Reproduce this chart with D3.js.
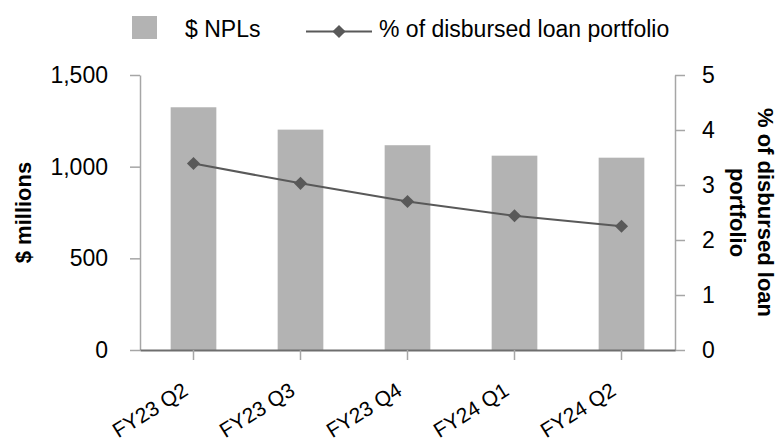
<!DOCTYPE html>
<html>
<head>
<meta charset="utf-8">
<script src="https://cdn.jsdelivr.net/npm/d3@7"></script>
<style>
  body { margin: 0; background: #fff; }
  svg text { font-family: "Liberation Sans", Arial, sans-serif; fill: #000; }
</style>
</head>
<body>
<svg width="778" height="441"></svg>
<script>
// chart values
var quarters = ["FY23 Q2", "FY23 Q3", "FY23 Q4", "FY24 Q1", "FY24 Q2"];
var nplValues = [1324, 1202, 1117, 1060, 1049];      // $ millions
var pctValues = [3.39, 3.03, 2.70, 2.44, 2.25];      // % of disbursed loan portfolio
var leftTicks = [0, 500, 1000, 1500];
var rightTicks = [0, 1, 2, 3, 4, 5];

var svg = d3.select("svg"),
    plotLeft = 140, plotRight = 675, plotTop = 75, plotBottom = 350,
    fs = 23;

var x = d3.scaleBand().domain(quarters).range([plotLeft, plotRight])
    .paddingInner(0.573).paddingOuter(0.2865);
var yL = d3.scaleLinear().domain([0, 1500]).range([plotBottom, plotTop]);
var yR = d3.scaleLinear().domain([0, 5]).range([plotBottom, plotTop]);

// bars
svg.append("g").selectAll("rect").data(nplValues).enter().append("rect")
  .attr("x", function(d, i) { return x(quarters[i]); })
  .attr("y", function(d) { return yL(d); })
  .attr("width", x.bandwidth())
  .attr("height", function(d) { return plotBottom - yL(d); })
  .attr("fill", "#b3b3b3");

// left axis
var gl = svg.append("g").attr("transform", "translate(" + plotLeft + ",0)")
  .call(d3.axisLeft(yL).tickValues(leftTicks).tickSize(10).tickSizeOuter(0)
    .tickPadding(22).tickFormat(d3.format(",")));
// right axis
var gr = svg.append("g").attr("transform", "translate(" + plotRight + ",0)")
  .call(d3.axisRight(yR).tickValues(rightTicks).tickSize(10).tickSizeOuter(0)
    .tickPadding(17).tickFormat(d3.format("d")));
[gl, gr].forEach(function(g) {
  g.select(".domain").attr("stroke", "#a6a6a6").attr("stroke-width", 1.5);
  g.selectAll(".tick line").attr("stroke", "#a6a6a6").attr("stroke-width", 1.5);
  g.selectAll(".tick text").attr("font-size", fs).attr("font-family", "Liberation Sans, Arial, sans-serif");
});

// bottom axis
var gb = svg.append("g").attr("transform", "translate(0," + plotBottom + ")")
  .call(d3.axisBottom(x).tickSize(10).tickSizeOuter(0));
gb.select(".domain").attr("stroke", "#6e6e6e").attr("stroke-width", 2);
gb.selectAll(".tick line").attr("stroke", "#a6a6a6").attr("stroke-width", 1.5);
gb.selectAll(".tick text")
  .attr("font-size", 21).attr("font-family", "Liberation Sans, Arial, sans-serif")
  .attr("text-anchor", "end").attr("y", 0).attr("dy", 0)
  .attr("transform", "translate(-4,44) rotate(-32)");

// line
var line = d3.line()
  .x(function(d, i) { return x(quarters[i]) + x.bandwidth() / 2; })
  .y(function(d) { return yR(d); });
svg.append("path").datum(pctValues)
  .attr("d", line).attr("fill", "none")
  .attr("stroke", "#595959").attr("stroke-width", 2);
var diamond = d3.symbol().type(d3.symbolDiamond2).size(110);
svg.append("g").selectAll("path").data(pctValues).enter().append("path")
  .attr("d", diamond)
  .attr("transform", function(d, i) {
    return "translate(" + (x(quarters[i]) + x.bandwidth() / 2) + "," + yR(d) + ")";
  })
  .attr("fill", "#595959");

// axis titles
var midY = (plotTop + plotBottom) / 2;
svg.append("text")
  .attr("transform", "translate(31," + midY + ") rotate(-90)")
  .attr("text-anchor", "middle").attr("font-size", 22).attr("font-weight", "bold")
  .text("$ millions");
var rt = svg.append("text")
  .attr("transform", "translate(758," + midY + ") rotate(90)")
  .attr("text-anchor", "middle").attr("font-size", 22).attr("font-weight", "bold");
rt.append("tspan").attr("x", 0).attr("y", 0).text("% of disbursed loan");
rt.append("tspan").attr("x", 0).attr("y", 28).text("portfolio");

// legend
var lg = svg.append("g");
lg.append("rect").attr("x", 132).attr("y", 16).attr("width", 25).attr("height", 23).attr("fill", "#b3b3b3");
lg.append("text").attr("x", 185).attr("y", 37).attr("font-size", fs).text("$ NPLs");
lg.append("line").attr("x1", 306).attr("x2", 372).attr("y1", 31.5).attr("y2", 31.5)
  .attr("stroke", "#595959").attr("stroke-width", 2);
lg.append("path").attr("d", diamond).attr("transform", "translate(339,31.5)").attr("fill", "#595959");
lg.append("text").attr("x", 379).attr("y", 37).attr("font-size", fs).text("% of disbursed loan portfolio");
</script>
</body>
</html>
